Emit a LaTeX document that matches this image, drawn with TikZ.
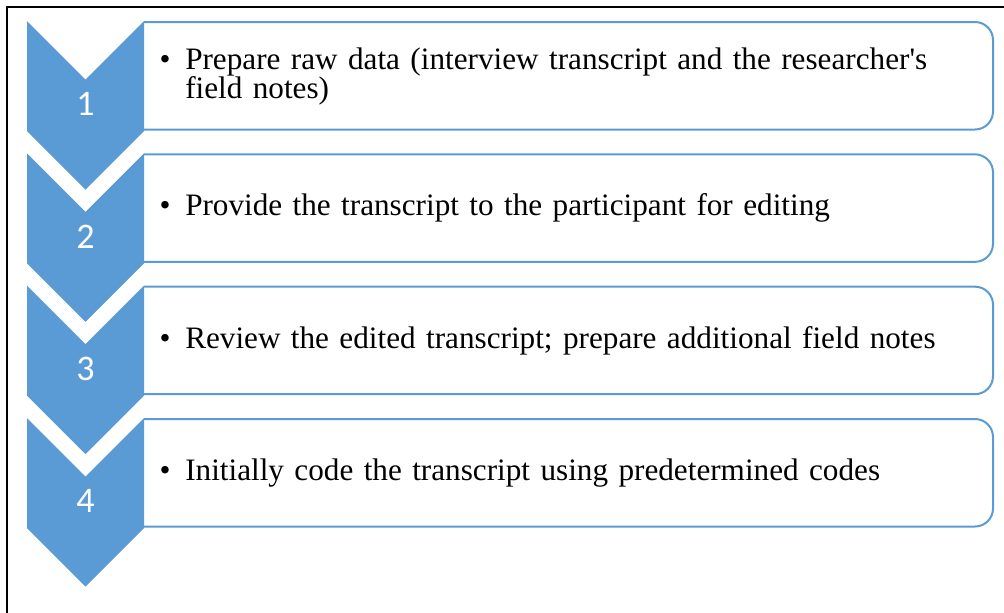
\documentclass[tikz,border=0pt]{standalone}
\usepackage{fontspec}
\setmainfont{Liberation Serif}
\newfontfamily\numfont{Carlito}
\definecolor{stepblue}{HTML}{5B9BD5}

\tikzset{
  chevshape/.style={fill=stepblue},
  listbox/.style={draw=stepblue, line width=1.5pt, fill=white, rounded corners=13.5pt},
  stepnum/.style={text=white, font=\numfont\fontsize{27}{27}\selectfont, inner sep=0pt},
  steptext/.style={anchor=west, text width=592pt, align=left, inner sep=0pt,
    font=\fontsize{23.4}{21.75}\selectfont},
}

% one row: chevron with its number, and the rounded list box with a bulleted item
\newcommand{\steprow}[4]{% #1 name, #2 top y, #3 number, #4 text
  \draw[listbox] (144,#2+108.5) -- (993,#2+108.5) -- (993,#2+1) -- (144,#2+1);
  \fill[chevshape] (27,#2) -- (85.5,#2+58.5) -- (144,#2) -- (144,#2+110)
    -- (85.5,#2+168.5) -- (27,#2+110) -- cycle;
  \node[stepnum] (#1num) at (85.5,#2+83) {#3};
  \node[steptext] (#1txt) at (185,#2+55) {\leavevmode\llap{\textbullet\hspace{11pt}}#4};
}

\begin{document}
\begin{tikzpicture}[x=0.75pt,y=-0.75pt]
  \useasboundingbox (0,0) rectangle (1004,612);
  \fill[white] (0,0) rectangle (1004,612);

  % outer frame, left and top edges
  \draw[line width=1.5pt] (7,613) -- (7,7) -- (1005,7);

  \steprow{a}{21}{1}{Prepare raw data (interview transcript and the researcher\textquotesingle s\\field notes)}
  \steprow{b}{153.33}{2}{Provide the transcript to the participant for editing}
  \steprow{c}{285.67}{3}{Review the edited transcript; prepare additional field notes}
  \steprow{d}{418}{4}{Initially code the transcript using predetermined codes}
\end{tikzpicture}
\end{document}
